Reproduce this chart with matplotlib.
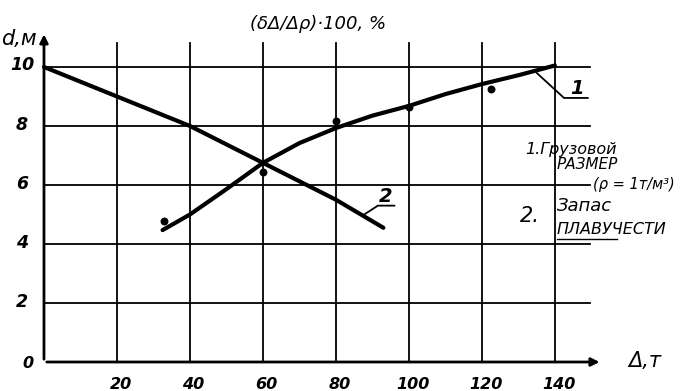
import matplotlib
matplotlib.use("Agg")
import matplotlib.pyplot as plt

# Data
x_ticks = [20, 40, 60, 80, 100, 120, 140]
y_ticks = [2, 4, 6, 8, 10]

cargo_x = [32.5, 40, 50, 60, 70, 80, 90, 100, 110, 120, 130, 140]
cargo_y = [4.47, 5.0, 5.86, 6.75, 7.42, 7.93, 8.35, 8.68, 9.08, 9.42, 9.72, 10.05]

reserve_x = [0, 20, 40, 60, 80, 93]
reserve_y = [10, 9.0, 8.0, 6.75, 5.5, 4.55]

pts_x = [33, 60, 80, 100, 122.5]
pts_y = [4.78, 6.44, 8.17, 8.65, 9.25]

fig = plt.figure(figsize=(6.87, 3.91), dpi=100)
ax = fig.add_axes([0, 0, 1, 1])
ax.set_xlim(-12.05, 176.2)
ax.set_ylim(-0.983, 12.27)
ax.axis('off')

font = dict(family='DejaVu Sans', style='italic', color='black')

# grid
for xv in x_ticks:
    ax.plot([xv, xv], [0, 10.8], color='black', lw=1.3)
for yv in y_ticks:
    ax.plot([0, 149.5], [yv, yv], color='black', lw=1.3)

# axes with arrows
ax.annotate('', xy=(0, 11.2), xytext=(0, 0),
            arrowprops=dict(arrowstyle='-|>', color='black', lw=2, mutation_scale=12))
ax.annotate('', xy=(153, 0), xytext=(0, 0),
            arrowprops=dict(arrowstyle='-|>', color='black', lw=2, mutation_scale=12))

# curves
ax.plot(cargo_x, cargo_y, color='black', lw=3, solid_capstyle='round', solid_joinstyle='round')
ax.plot(reserve_x, reserve_y, color='black', lw=3, solid_capstyle='round', solid_joinstyle='round')
ax.scatter(pts_x, pts_y, s=22, color='black', zorder=5)

# tick labels
for xv in x_ticks:
    ax.text(xv + 1, -0.75, str(xv), ha='center', va='center', fontsize=11.5, fontweight='bold', **font)
ax.text(-4.5, -0.05, '0', ha='center', va='center', fontsize=11.5, fontweight='bold', **font)
for yv in y_ticks:
    ax.text(-6, yv + 0.05, str(yv), ha='center', va='center', fontsize=12.5, fontweight='bold', **font)

# axis labels
ax.text(-7, 10.95, 'd,м', ha='center', va='center', fontsize=15, **font)
ax.text(160, 0.05, 'Δ,т', ha='left', va='center', fontsize=15, **font)
ax.text(75, 11.45, '(δΔ/Δρ)·100, %', ha='center', va='center', fontsize=13, **font)

# leader for 1
ax.plot([135, 142.5, 149], [9.8, 8.95, 8.95], color='black', lw=1.3)
ax.text(146, 9.28, '1', ha='center', va='center', fontsize=14, fontweight='bold', **font)
# leader for 2
ax.plot([87.5, 91.5, 96], [4.98, 5.3, 5.3], color='black', lw=1.3)
ax.text(93.5, 5.62, '2', ha='center', va='center', fontsize=14, fontweight='bold', **font)

# legend text
ax.text(132, 7.2, '1.Грузовой', ha='left', va='center', fontsize=11.5, **font)
ax.text(140.5, 6.7, 'РАЗМЕР', ha='left', va='center', fontsize=11, **font)
ax.text(150.5, 6.0, '(ρ = 1т/м³)', ha='left', va='center', fontsize=10.5, **font)
ax.text(130.5, 4.95, '2.', ha='left', va='center', fontsize=15, **font)
ax.text(140.5, 5.3, 'Запас', ha='left', va='center', fontsize=13, **font)
ax.text(140.5, 4.5, 'ПЛАВУЧЕСТИ', ha='left', va='center', fontsize=11.5, **font)
ax.plot([140.5, 157], [4.18, 4.18], color='black', lw=1)

fig.savefig('out.png', dpi=100, facecolor='white')
